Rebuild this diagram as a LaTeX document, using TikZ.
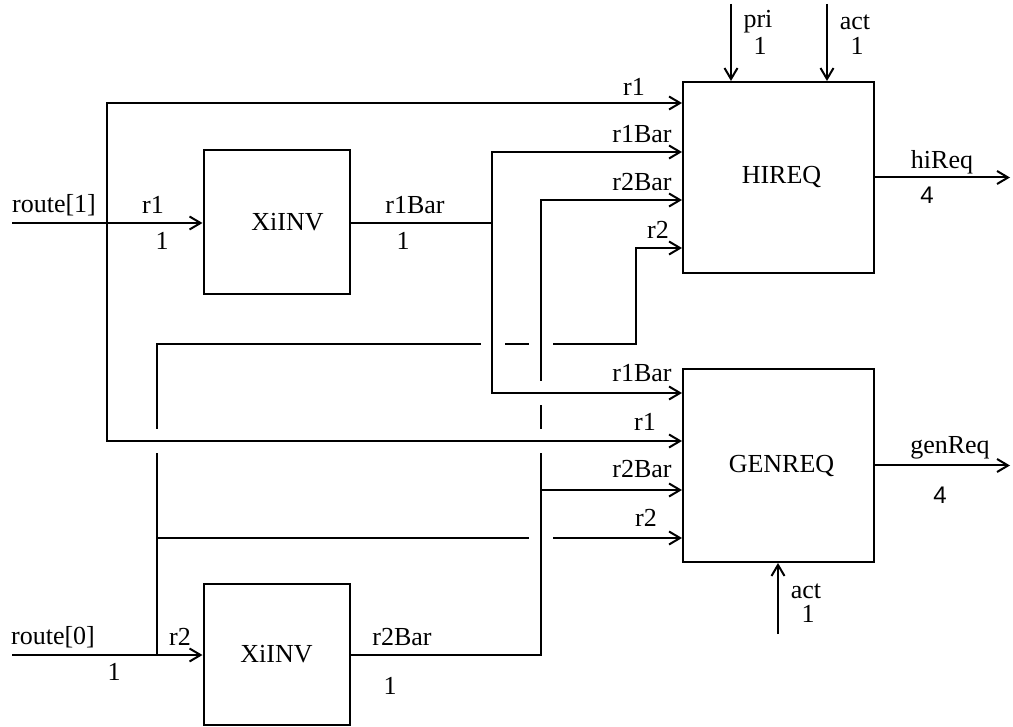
\documentclass[tikz,border=0pt]{standalone}
\usepackage{fontspec}
\setmainfont{Liberation Serif}
\newfontfamily\digitsans{Liberation Sans}
\usetikzlibrary{arrows.meta}
\begin{document}
\begin{tikzpicture}[x=1pt,y=-1pt,line width=2pt,
  arr/.style={-{Straight Barb[length=11pt,width=13pt]}},
  blockbox/.style={draw,minimum width=191pt,minimum height=191pt,inner sep=0pt,font=\fontsize{26}{30}\selectfont},
  invbox/.style={draw,minimum width=146pt,minimum height=144pt,inner sep=0pt,font=\fontsize{26}{30}\selectfont},
  lbl/.style={font=\fontsize{26}{30}\selectfont,inner sep=0pt},
  gap/.style={white,line width=7pt}]
\useasboundingbox (0,0) rectangle (1013,727);
% blocks
\node[invbox] (inv1) at (276.5,222.5) {\hspace{22pt}XiINV};
\node[invbox,minimum height=141pt] (inv2) at (276.5,654.5) {XiINV};
\node[blockbox] (hireq) at (778.5,177.5) {\hspace{6pt}HIREQ};
\node[blockbox,minimum height=193pt] (genreq) at (778.5,465.5) {\hspace{6pt}GENREQ};
% coordinates
\coordinate (in1) at (12,223);
\coordinate (in2) at (12,655);
\coordinate (j1) at (107,223);
\coordinate (j2) at (157,655);
\coordinate (j3) at (157,538);
\coordinate (b2top) at (157,344);
\coordinate (c2) at (636,344);
\coordinate (o1) at (492,223);
\coordinate (o2) at (541,655);
\coordinate (j4) at (541,490);
\coordinate (hi1) at (682,103);
\coordinate (hi2) at (682,152);
\coordinate (hi3) at (682,200);
\coordinate (hi4) at (682,248);
\coordinate (ge1) at (682,393);
\coordinate (ge2) at (682,441);
\coordinate (ge3) at (682,490);
\coordinate (ge4) at (682,538);
\coordinate (p0) at (731,4);
\coordinate (a0) at (827,4);
\coordinate (a1) at (778,634);
% inputs to inverters
\draw[arr] (in1) -- (inv1.west |- in1);
\draw[arr] (in2) -- (inv2.west |- in2);
% layer 1: r2 buses
\draw[arr] (j2) -- (b2top) -- (c2) |- (hi4);
\draw[arr] (j3) -- (ge4);
\draw[gap] (157,429) -- (157,453);
\draw[gap] (481,344) -- (505,344);
\draw[gap] (529,344) -- (553,344);
\draw[gap] (529,538) -- (553,538);
% layer 2: r2Bar and r1Bar buses
\draw[arr] (inv2.east |- o2) -- (o2) |- (hi3);
\draw[arr] (j4) -- (ge3);
\draw (inv1.east |- o1) -- (o1);
\draw[arr] (o1) |- (hi2);
\draw[gap] (541,381) -- (541,405);
\draw[gap] (541,429) -- (541,453);
% layer 3
\draw[arr] (o1) |- (ge1);
\draw[arr] (j1) |- (hi1);
\draw[arr] (j1) |- (ge2);
% outputs and control inputs
\draw[arr] (hireq.east) -- ++(135,0);
\draw[arr] (genreq.east) -- ++(135,0);
\draw[arr] (p0) -- (p0 |- hireq.north);
\draw[arr] (a0) -- (a0 |- hireq.north);
\draw[arr] (a1) -- (a1 |- genreq.south);
% labels
\node[lbl] at (54,205) {route[1]};
\node[lbl] at (153,205) {r1};
\node[lbl] at (162,241) {1};
\node[lbl] at (415,205) {r1Bar};
\node[lbl] at (403,241) {1};
\node[lbl] at (53,637) {route[0]};
\node[lbl] at (180,637) {r2};
\node[lbl] at (114,672) {1};
\node[lbl] at (402,637) {r2Bar};
\node[lbl] at (390,686) {1};
\node[lbl] at (634,87) {r1};
\node[lbl] at (642,134) {r1Bar};
\node[lbl] at (642,182) {r2Bar};
\node[lbl] at (658,230) {r2};
\node[lbl] at (642,373) {r1Bar};
\node[lbl] at (645,422) {r1};
\node[lbl] at (642,469) {r2Bar};
\node[lbl] at (646,518) {r2};
\node[lbl] at (758,22) {pri};
\node[lbl] at (760,46) {1};
\node[lbl] at (855,22) {act};
\node[lbl] at (857,46) {1};
\node[lbl] at (942,162) {hiReq};
\node[lbl,font=\digitsans\fontsize{24}{28}\selectfont] at (927,195) {4};
\node[lbl] at (950,448) {genReq};
\node[lbl,font=\digitsans\fontsize{24}{28}\selectfont] at (940,495) {4};
\node[lbl] at (806,591) {act};
\node[lbl] at (808,614) {1};
\end{tikzpicture}
\end{document}
